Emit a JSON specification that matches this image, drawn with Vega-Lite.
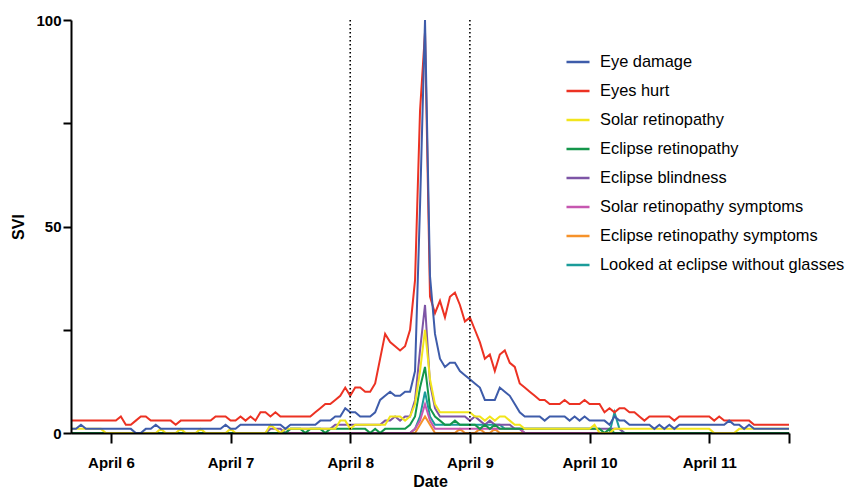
{
"$schema": "https://vega.github.io/schema/vega-lite/v6.json",
"width": 718, "height": 413,
"autosize": {"type": "none"},
"padding": {"left": 71, "top": 20, "right": 57, "bottom": 55},
"config": {"view": {"stroke": null}, "font": "Liberation Sans"},
"layer": [
{
"data": {"format": {"parse": {"t": "date:'%Y-%m-%d %H'"}}, "values": [
{"t":"2024-04-05 16","a":1,"b":3,"c":1,"d":0,"e":0,"f":0,"g":0,"h":0},
{"t":"2024-04-05 17","a":1,"b":3,"c":1,"d":0,"e":0,"f":0,"g":0,"h":0},
{"t":"2024-04-05 18","a":2,"b":3,"c":1,"d":0,"e":0,"f":0,"g":0,"h":0},
{"t":"2024-04-05 19","a":1,"b":3,"c":1,"d":0,"e":0,"f":0,"g":0,"h":0},
{"t":"2024-04-05 20","a":1,"b":3,"c":1,"d":0,"e":0,"f":0,"g":0,"h":0},
{"t":"2024-04-05 21","a":1,"b":3,"c":1,"d":0,"e":0,"f":0,"g":0,"h":0},
{"t":"2024-04-05 22","a":1,"b":3,"c":1,"d":0,"e":0,"f":0,"g":0,"h":0},
{"t":"2024-04-05 23","a":1,"b":3,"c":0,"d":0,"e":0,"f":0,"g":0,"h":0},
{"t":"2024-04-06 00","a":1,"b":3,"c":0,"d":0,"e":0,"f":0,"g":0,"h":0},
{"t":"2024-04-06 01","a":1,"b":3,"c":0,"d":0,"e":0,"f":0,"g":0,"h":0},
{"t":"2024-04-06 02","a":1,"b":4,"c":0,"d":0,"e":0,"f":0,"g":0,"h":0},
{"t":"2024-04-06 03","a":1,"b":2,"c":0,"d":0,"e":0,"f":0,"g":0,"h":0},
{"t":"2024-04-06 04","a":1,"b":2,"c":0,"d":0,"e":0,"f":0,"g":0,"h":0},
{"t":"2024-04-06 05","a":0,"b":3,"c":0,"d":0,"e":0,"f":0,"g":0,"h":0},
{"t":"2024-04-06 06","a":0,"b":4,"c":0,"d":0,"e":0,"f":0,"g":0,"h":0},
{"t":"2024-04-06 07","a":1,"b":4,"c":0,"d":0,"e":0,"f":0,"g":0,"h":0},
{"t":"2024-04-06 08","a":1,"b":3,"c":0,"d":0,"e":0,"f":0,"g":0,"h":0},
{"t":"2024-04-06 09","a":2,"b":3,"c":0,"d":0,"e":0,"f":0,"g":0,"h":0},
{"t":"2024-04-06 10","a":1,"b":3,"c":1,"d":0,"e":0,"f":0,"g":0,"h":0},
{"t":"2024-04-06 11","a":1,"b":3,"c":0,"d":0,"e":0,"f":0,"g":0,"h":0},
{"t":"2024-04-06 12","a":1,"b":3,"c":0,"d":0,"e":0,"f":0,"g":0,"h":0},
{"t":"2024-04-06 13","a":1,"b":2,"c":0,"d":0,"e":0,"f":0,"g":0,"h":0},
{"t":"2024-04-06 14","a":1,"b":3,"c":1,"d":0,"e":0,"f":0,"g":0,"h":0},
{"t":"2024-04-06 15","a":1,"b":3,"c":0,"d":0,"e":0,"f":0,"g":0,"h":0},
{"t":"2024-04-06 16","a":1,"b":3,"c":0,"d":0,"e":0,"f":0,"g":0,"h":0},
{"t":"2024-04-06 17","a":1,"b":3,"c":0,"d":0,"e":0,"f":0,"g":0,"h":0},
{"t":"2024-04-06 18","a":1,"b":3,"c":1,"d":0,"e":0,"f":0,"g":0,"h":0},
{"t":"2024-04-06 19","a":1,"b":3,"c":0,"d":0,"e":0,"f":0,"g":0,"h":0},
{"t":"2024-04-06 20","a":1,"b":3,"c":0,"d":0,"e":0,"f":0,"g":0,"h":0},
{"t":"2024-04-06 21","a":1,"b":4,"c":0,"d":0,"e":0,"f":0,"g":0,"h":0},
{"t":"2024-04-06 22","a":1,"b":4,"c":0,"d":0,"e":0,"f":0,"g":0,"h":0},
{"t":"2024-04-06 23","a":2,"b":4,"c":0,"d":0,"e":0,"f":0,"g":0,"h":0},
{"t":"2024-04-07 00","a":1,"b":3,"c":1,"d":0,"e":0,"f":0,"g":0,"h":0},
{"t":"2024-04-07 01","a":1,"b":3,"c":0,"d":0,"e":0,"f":0,"g":0,"h":0},
{"t":"2024-04-07 02","a":2,"b":4,"c":0,"d":0,"e":0,"f":0,"g":0,"h":0},
{"t":"2024-04-07 03","a":2,"b":3,"c":0,"d":0,"e":0,"f":0,"g":0,"h":0},
{"t":"2024-04-07 04","a":2,"b":4,"c":0,"d":0,"e":0,"f":0,"g":0,"h":0},
{"t":"2024-04-07 05","a":2,"b":3,"c":0,"d":0,"e":0,"f":0,"g":0,"h":0},
{"t":"2024-04-07 06","a":2,"b":5,"c":0,"d":0,"e":0,"f":0,"g":0,"h":0},
{"t":"2024-04-07 07","a":2,"b":5,"c":0,"d":0,"e":0,"f":0,"g":0,"h":0},
{"t":"2024-04-07 08","a":2,"b":4,"c":2,"d":0,"e":1,"f":0,"g":0,"h":0},
{"t":"2024-04-07 09","a":2,"b":5,"c":1,"d":0,"e":1,"f":0,"g":0,"h":0},
{"t":"2024-04-07 10","a":2,"b":4,"c":0,"d":0,"e":1,"f":0,"g":0,"h":0},
{"t":"2024-04-07 11","a":1,"b":4,"c":1,"d":0,"e":0,"f":0,"g":0,"h":0},
{"t":"2024-04-07 12","a":2,"b":4,"c":1,"d":1,"e":1,"f":0,"g":0,"h":0},
{"t":"2024-04-07 13","a":2,"b":4,"c":1,"d":1,"e":1,"f":0,"g":0,"h":0},
{"t":"2024-04-07 14","a":2,"b":4,"c":1,"d":1,"e":1,"f":0,"g":0,"h":0},
{"t":"2024-04-07 15","a":2,"b":4,"c":1,"d":0,"e":1,"f":0,"g":0,"h":0},
{"t":"2024-04-07 16","a":2,"b":4,"c":1,"d":1,"e":1,"f":0,"g":0,"h":0},
{"t":"2024-04-07 17","a":2,"b":5,"c":1,"d":1,"e":1,"f":0,"g":0,"h":0},
{"t":"2024-04-07 18","a":3,"b":6,"c":1,"d":1,"e":1,"f":0,"g":0,"h":0},
{"t":"2024-04-07 19","a":3,"b":7,"c":1,"d":0,"e":1,"f":0,"g":0,"h":0},
{"t":"2024-04-07 20","a":3,"b":7,"c":1,"d":1,"e":1,"f":0,"g":0,"h":0},
{"t":"2024-04-07 21","a":4,"b":8,"c":1,"d":1,"e":2,"f":0,"g":0,"h":0},
{"t":"2024-04-07 22","a":4,"b":9,"c":3,"d":1,"e":2,"f":0,"g":0,"h":0},
{"t":"2024-04-07 23","a":6,"b":11,"c":3,"d":1,"e":2,"f":0,"g":0,"h":0},
{"t":"2024-04-08 00","a":5,"b":9,"c":1,"d":1,"e":2,"f":0,"g":0,"h":0},
{"t":"2024-04-08 01","a":5,"b":11,"c":2,"d":1,"e":2,"f":0,"g":0,"h":0},
{"t":"2024-04-08 02","a":4,"b":11,"c":2,"d":1,"e":2,"f":0,"g":0,"h":0},
{"t":"2024-04-08 03","a":4,"b":10,"c":2,"d":1,"e":2,"f":0,"g":0,"h":0},
{"t":"2024-04-08 04","a":4,"b":10,"c":2,"d":0,"e":2,"f":0,"g":0,"h":0},
{"t":"2024-04-08 05","a":5,"b":12,"c":2,"d":1,"e":2,"f":0,"g":0,"h":0},
{"t":"2024-04-08 06","a":8,"b":18,"c":2,"d":0,"e":2,"f":0,"g":0,"h":0},
{"t":"2024-04-08 07","a":9,"b":24,"c":2,"d":1,"e":3,"f":0,"g":0,"h":0},
{"t":"2024-04-08 08","a":10,"b":22,"c":4,"d":1,"e":3,"f":0,"g":0,"h":0},
{"t":"2024-04-08 09","a":9,"b":21,"c":4,"d":1,"e":4,"f":0,"g":0,"h":0},
{"t":"2024-04-08 10","a":9,"b":20,"c":4,"d":1,"e":3,"f":0,"g":0,"h":0},
{"t":"2024-04-08 11","a":10,"b":21,"c":3,"d":1,"e":4,"f":0,"g":0,"h":0},
{"t":"2024-04-08 12","a":10,"b":25,"c":4,"d":2,"e":4,"f":0,"g":0,"h":0},
{"t":"2024-04-08 13","a":15,"b":37,"c":7,"d":4,"e":8,"f":1,"g":0,"h":1},
{"t":"2024-04-08 14","a":55,"b":78,"c":15,"d":11,"e":20,"f":3,"g":2,"h":4},
{"t":"2024-04-08 15","a":100,"b":97,"c":25,"d":16,"e":31,"f":7,"g":4,"h":10},
{"t":"2024-04-08 16","a":38,"b":33,"c":13,"d":6,"e":12,"f":3,"g":2,"h":4},
{"t":"2024-04-08 17","a":24,"b":29,"c":7,"d":4,"e":6,"f":1,"g":0,"h":2},
{"t":"2024-04-08 18","a":18,"b":32,"c":5,"d":3,"e":4,"f":1,"g":0,"h":2},
{"t":"2024-04-08 19","a":16,"b":28,"c":5,"d":2,"e":4,"f":1,"g":0,"h":2},
{"t":"2024-04-08 20","a":17,"b":33,"c":5,"d":2,"e":4,"f":1,"g":0,"h":2},
{"t":"2024-04-08 21","a":17,"b":34,"c":5,"d":3,"e":4,"f":1,"g":0,"h":2},
{"t":"2024-04-08 22","a":15,"b":31,"c":5,"d":2,"e":4,"f":1,"g":1,"h":2},
{"t":"2024-04-08 23","a":14,"b":27,"c":5,"d":2,"e":4,"f":1,"g":0,"h":2},
{"t":"2024-04-09 00","a":13,"b":28,"c":5,"d":2,"e":3,"f":1,"g":0,"h":2},
{"t":"2024-04-09 01","a":12,"b":25,"c":4,"d":2,"e":4,"f":1,"g":0,"h":2},
{"t":"2024-04-09 02","a":11,"b":22,"c":4,"d":1,"e":3,"f":1,"g":1,"h":2},
{"t":"2024-04-09 03","a":8,"b":18,"c":3,"d":2,"e":2,"f":1,"g":0,"h":2},
{"t":"2024-04-09 04","a":8,"b":19,"c":4,"d":1,"e":3,"f":1,"g":0,"h":2},
{"t":"2024-04-09 05","a":8,"b":15,"c":3,"d":2,"e":2,"f":1,"g":1,"h":2},
{"t":"2024-04-09 06","a":11,"b":19,"c":4,"d":1,"e":2,"f":1,"g":0,"h":2},
{"t":"2024-04-09 07","a":10,"b":20,"c":4,"d":1,"e":2,"f":1,"g":0,"h":1},
{"t":"2024-04-09 08","a":9,"b":17,"c":3,"d":1,"e":2,"f":1,"g":0,"h":1},
{"t":"2024-04-09 09","a":7,"b":16,"c":2,"d":1,"e":1,"f":1,"g":0,"h":1},
{"t":"2024-04-09 10","a":5,"b":12,"c":2,"d":1,"e":1,"f":1,"g":0,"h":1},
{"t":"2024-04-09 11","a":4,"b":11,"c":1,"d":1,"e":1,"f":0,"g":0,"h":0},
{"t":"2024-04-09 12","a":4,"b":10,"c":1,"d":1,"e":1,"f":0,"g":0,"h":0},
{"t":"2024-04-09 13","a":4,"b":9,"c":1,"d":1,"e":1,"f":0,"g":0,"h":0},
{"t":"2024-04-09 14","a":4,"b":8,"c":1,"d":1,"e":1,"f":0,"g":0,"h":0},
{"t":"2024-04-09 15","a":3,"b":8,"c":1,"d":1,"e":1,"f":0,"g":0,"h":0},
{"t":"2024-04-09 16","a":4,"b":7,"c":1,"d":1,"e":1,"f":0,"g":0,"h":0},
{"t":"2024-04-09 17","a":4,"b":7,"c":1,"d":1,"e":1,"f":0,"g":0,"h":0},
{"t":"2024-04-09 18","a":4,"b":7,"c":1,"d":1,"e":1,"f":0,"g":0,"h":0},
{"t":"2024-04-09 19","a":4,"b":8,"c":1,"d":1,"e":1,"f":0,"g":0,"h":0},
{"t":"2024-04-09 20","a":3,"b":7,"c":1,"d":1,"e":1,"f":0,"g":0,"h":0},
{"t":"2024-04-09 21","a":4,"b":7,"c":1,"d":1,"e":1,"f":0,"g":0,"h":0},
{"t":"2024-04-09 22","a":3,"b":7,"c":1,"d":1,"e":1,"f":0,"g":0,"h":0},
{"t":"2024-04-09 23","a":4,"b":8,"c":1,"d":1,"e":1,"f":0,"g":0,"h":0},
{"t":"2024-04-10 00","a":3,"b":7,"c":1,"d":1,"e":1,"f":0,"g":0,"h":0},
{"t":"2024-04-10 01","a":3,"b":7,"c":2,"d":1,"e":1,"f":0,"g":0,"h":0},
{"t":"2024-04-10 02","a":3,"b":7,"c":0,"d":1,"e":1,"f":0,"g":0,"h":0},
{"t":"2024-04-10 03","a":3,"b":5,"c":0,"d":0,"e":1,"f":0,"g":0,"h":0},
{"t":"2024-04-10 04","a":2,"b":6,"c":0,"d":1,"e":1,"f":0,"g":0,"h":0},
{"t":"2024-04-10 05","a":4,"b":5,"c":1,"d":0,"e":1,"f":0,"g":0,"h":5},
{"t":"2024-04-10 06","a":3,"b":6,"c":1,"d":0,"e":1,"f":0,"g":0,"h":1},
{"t":"2024-04-10 07","a":3,"b":6,"c":1,"d":0,"e":0,"f":0,"g":0,"h":0},
{"t":"2024-04-10 08","a":2,"b":5,"c":1,"d":0,"e":0,"f":0,"g":0,"h":0},
{"t":"2024-04-10 09","a":2,"b":5,"c":1,"d":0,"e":0,"f":0,"g":0,"h":0},
{"t":"2024-04-10 10","a":2,"b":4,"c":1,"d":0,"e":0,"f":0,"g":0,"h":0},
{"t":"2024-04-10 11","a":2,"b":3,"c":1,"d":0,"e":0,"f":0,"g":0,"h":0},
{"t":"2024-04-10 12","a":2,"b":4,"c":1,"d":0,"e":0,"f":0,"g":0,"h":0},
{"t":"2024-04-10 13","a":1,"b":4,"c":1,"d":0,"e":0,"f":0,"g":0,"h":0},
{"t":"2024-04-10 14","a":2,"b":4,"c":1,"d":0,"e":0,"f":0,"g":0,"h":0},
{"t":"2024-04-10 15","a":1,"b":4,"c":1,"d":0,"e":0,"f":0,"g":0,"h":0},
{"t":"2024-04-10 16","a":2,"b":4,"c":1,"d":0,"e":0,"f":0,"g":0,"h":0},
{"t":"2024-04-10 17","a":1,"b":3,"c":1,"d":0,"e":0,"f":0,"g":0,"h":0},
{"t":"2024-04-10 18","a":2,"b":4,"c":1,"d":0,"e":0,"f":0,"g":0,"h":0},
{"t":"2024-04-10 19","a":2,"b":4,"c":1,"d":0,"e":0,"f":0,"g":0,"h":0},
{"t":"2024-04-10 20","a":2,"b":4,"c":1,"d":0,"e":0,"f":0,"g":0,"h":0},
{"t":"2024-04-10 21","a":2,"b":4,"c":1,"d":0,"e":0,"f":0,"g":0,"h":0},
{"t":"2024-04-10 22","a":2,"b":4,"c":1,"d":0,"e":0,"f":0,"g":0,"h":0},
{"t":"2024-04-10 23","a":2,"b":4,"c":1,"d":0,"e":0,"f":0,"g":0,"h":0},
{"t":"2024-04-11 00","a":2,"b":4,"c":1,"d":0,"e":0,"f":0,"g":0,"h":0},
{"t":"2024-04-11 01","a":2,"b":3,"c":0,"d":0,"e":0,"f":0,"g":0,"h":0},
{"t":"2024-04-11 02","a":2,"b":4,"c":0,"d":0,"e":0,"f":0,"g":0,"h":0},
{"t":"2024-04-11 03","a":2,"b":3,"c":0,"d":0,"e":0,"f":0,"g":0,"h":0},
{"t":"2024-04-11 04","a":3,"b":3,"c":0,"d":0,"e":0,"f":0,"g":0,"h":0},
{"t":"2024-04-11 05","a":2,"b":3,"c":0,"d":0,"e":0,"f":0,"g":0,"h":0},
{"t":"2024-04-11 06","a":2,"b":3,"c":1,"d":0,"e":0,"f":0,"g":0,"h":0},
{"t":"2024-04-11 07","a":1,"b":3,"c":1,"d":0,"e":0,"f":0,"g":0,"h":0},
{"t":"2024-04-11 08","a":2,"b":3,"c":1,"d":0,"e":0,"f":0,"g":0,"h":0},
{"t":"2024-04-11 09","a":1,"b":2,"c":1,"d":0,"e":0,"f":0,"g":0,"h":0},
{"t":"2024-04-11 10","a":1,"b":2,"c":1,"d":0,"e":0,"f":0,"g":0,"h":0},
{"t":"2024-04-11 11","a":1,"b":2,"c":1,"d":0,"e":0,"f":0,"g":0,"h":0},
{"t":"2024-04-11 12","a":1,"b":2,"c":1,"d":0,"e":0,"f":0,"g":0,"h":0},
{"t":"2024-04-11 13","a":1,"b":2,"c":1,"d":0,"e":0,"f":0,"g":0,"h":0},
{"t":"2024-04-11 14","a":1,"b":2,"c":1,"d":0,"e":0,"f":0,"g":0,"h":0},
{"t":"2024-04-11 15","a":1,"b":2,"c":1,"d":0,"e":0,"f":0,"g":0,"h":0},
{"t":"2024-04-11 16","a":1,"b":2,"c":1,"d":0,"e":0,"f":0,"g":0,"h":0}
]},
"transform": [
{"fold": ["h","g","f","e","d","c","b","a"], "as": ["k","v"]},
{"lookup": "k", "from": {"data": {"values": [
{"k":"a","series":"Eye damage"},
{"k":"b","series":"Eyes hurt"},
{"k":"c","series":"Solar retinopathy"},
{"k":"d","series":"Eclipse retinopathy"},
{"k":"e","series":"Eclipse blindness"},
{"k":"f","series":"Solar retinopathy symptoms"},
{"k":"g","series":"Eclipse retinopathy symptoms"},
{"k":"h","series":"Looked at eclipse without glasses"}
]}, "key": "k", "fields": ["series"]}}
],
"mark": {"type": "line", "strokeWidth": 2, "clip": false},
"encoding": {
"x": {"field": "t", "type": "temporal",
 "scale": {"domain": [{"year":2024,"month":4,"date":5,"hours":16},{"year":2024,"month":4,"date":11,"hours":16}]},
 "axis": {"values": [{"year":2024,"month":4,"date":6},{"year":2024,"month":4,"date":7},{"year":2024,"month":4,"date":8},{"year":2024,"month":4,"date":9},{"year":2024,"month":4,"date":10},{"year":2024,"month":4,"date":11},{"year":2024,"month":4,"date":11,"hours":16}],
  "labelExpr": "hours(datum.value) == 0 ? timeFormat(datum.value, '%B %-d') : ''",
  "labelOverlap": false, "labelFlush": false,
  "title": "Date", "titleFontSize": 16, "titleFontWeight": "bold", "titleColor": "black",
  "labelFontSize": 15, "labelFontWeight": "bold", "labelColor": "black",
  "domainColor": "black", "domainWidth": 2, "tickColor": "black", "tickWidth": 2, "tickSize": 10,
  "labelPadding": 12, "titlePadding": 3, "grid": false, "zindex": 1}},
"y": {"field": "v", "type": "quantitative",
 "scale": {"domain": [0, 100], "nice": false},
 "axis": {"values": [0, 25, 50, 75, 100],
  "labelExpr": "datum.value % 50 == 0 ? datum.label : ''",
  "title": "SVI", "titleFontSize": 16, "titleFontWeight": "bold", "titleColor": "black",
  "labelFontSize": 15, "labelFontWeight": "bold", "labelColor": "black",
  "domainColor": "black", "domainWidth": 2, "tickColor": "black", "tickWidth": 2, "tickSize": 8,
  "labelPadding": 2, "titlePadding": 9, "grid": false, "zindex": 1}},
"color": {"field": "series", "type": "nominal",
 "scale": {"domain": ["Eye damage","Eyes hurt","Solar retinopathy","Eclipse retinopathy","Eclipse blindness","Solar retinopathy symptoms","Eclipse retinopathy symptoms","Looked at eclipse without glasses"],
  "range": ["#3E5CAA","#EC3223","#F2E51C","#14964B","#7D55A6","#C657B0","#F6922A","#1B9C9A"]},
 "legend": {"orient": "none", "legendX": 494, "legendY": 29, "title": null, "padding": 0,
  "symbolType": "stroke", "symbolSize": 530, "symbolStrokeWidth": 2.5,
  "labelFontSize": 16.4, "labelColor": "black", "labelOffset": 9, "rowPadding": 7, "labelLimit": 320}}
}
},
{
"data": {"format": {"parse": {"t": "date:'%Y-%m-%d %H'"}}, "values": [{"t":"2024-04-08 00"},{"t":"2024-04-09 00"}]},
"mark": {"type": "rule", "color": "black", "strokeWidth": 1.6, "strokeDash": [1.6, 2.4]},
"encoding": {"x": {"field": "t", "type": "temporal"}}
}
]
}
